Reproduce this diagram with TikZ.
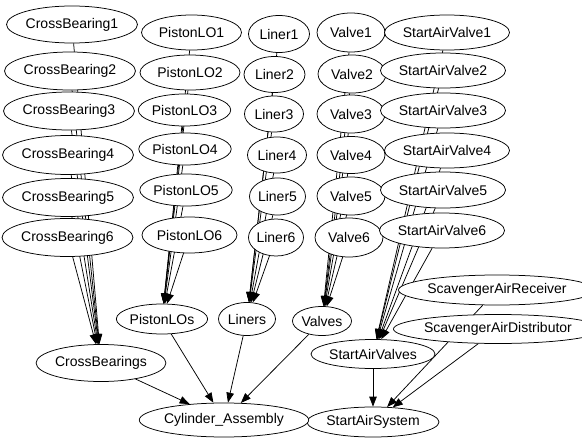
\documentclass[tikz,border=0pt]{standalone}
\usepackage{fontspec}
\setmainfont{Liberation Sans}
\usetikzlibrary{shapes.geometric,arrows.meta,backgrounds}
\tikzset{
  nd/.style={ellipse, draw=black, fill=white, inner sep=0pt, line width=0.75pt,
    font=\fontsize{14}{16}\selectfont},
  sz/.style 2 args={minimum width=#1pt, minimum height=#2pt},
  edge/.style={draw=black, line width=0.75pt, -{Triangle[length=10pt,width=7.5pt]}}
}
\begin{document}
\begin{tikzpicture}[x=1pt,y=-1pt]
\useasboundingbox (0,0) rectangle (582,439);
% CrossBearing column
\node[nd,sz={129}{37}] (cb1) at (72,24.5) {CrossBearing1};
\node[nd,sz={127}{38}] (cb2) at (70,71) {CrossBearing2};
\node[nd,sz={127}{38}] (cb3) at (69,111) {CrossBearing3};
\node[nd,sz={127}{39}] (cb4) at (68,155) {CrossBearing4};
\node[nd,sz={127}{38}] (cb5) at (68,197.5) {CrossBearing5};
\node[nd,sz={125}{38}] (cb6) at (67.5,237.5) {CrossBearing6};
% PistonLO column
\node[nd,sz={100}{35}] (p1) at (191.5,32.5) {PistonLO1};
\node[nd,sz={100}{35}] (p2) at (190,72.5) {PistonLO2};
\node[nd,sz={89}{32}] (p3) at (184.5,110) {PistonLO3};
\node[nd,sz={90}{32}] (p4) at (185,149) {PistonLO4};
\node[nd,sz={92}{32}] (p5) at (186,190) {PistonLO5};
\node[nd,sz={95}{36}] (p6) at (189.5,235) {PistonLO6};
% Liner column
\node[nd,sz={61}{37}] (l1) at (279,34) {Liner1};
\node[nd,sz={61}{36}] (l2) at (274.5,74.5) {Liner2};
\node[nd,sz={59}{36}] (l3) at (274,114) {Liner3};
\node[nd,sz={59}{36}] (l4) at (277,155) {Liner4};
\node[nd,sz={56}{37}] (l5) at (277.5,196.5) {Liner5};
\node[nd,sz={54}{37}] (l6) at (276,237.5) {Liner6};
% Valve column
\node[nd,sz={68}{39}] (v1) at (351,32.5) {Valve1};
\node[nd,sz={68}{38}] (v2) at (352,74) {Valve2};
\node[nd,sz={68}{38}] (v3) at (351,114) {Valve3};
\node[nd,sz={68}{37}] (v4) at (351,155) {Valve4};
\node[nd,sz={68}{38}] (v5) at (351,196) {Valve5};
\node[nd,sz={68}{39}] (v6) at (349,237.5) {Valve6};
% StartAirValve column
\node[nd,sz={110}{35}] (s1) at (447,32.5) {StartAirValve1};
\node[nd,sz={110}{35}] (s2) at (443,70.5) {StartAirValve2};
\node[nd,sz={110}{35}] (s3) at (443,110.5) {StartAirValve3};
\node[nd,sz={110}{35}] (s4) at (447,150.5) {StartAirValve4};
\node[nd,sz={110}{36}] (s5) at (443,190) {StartAirValve5};
\node[nd,sz={110}{35}] (s6) at (442,230.5) {StartAirValve6};
% aggregates
\node[nd,sz={118}{37}] (cbs) at (101,363) {CrossBearings};
\node[nd,sz={89}{30}] (ps) at (162,319) {PistonLOs};
\node[nd,sz={57}{33}] (ls) at (247,319) {Liners};
\node[nd,sz={59}{29}] (vs) at (322,321) {Valves};
\node[nd,sz={107}{29}] (savs) at (373,354) {StartAirValves};
\node[nd,sz={165}{30}] (sar) at (497,290) {ScavengerAirReceiver};
\node[nd,sz={167}{29}] (sad) at (498,329) {ScavengerAirDistributor};
\node[nd,sz={117}{30}] (sas) at (373,422) {StartAirSystem};
\node[nd,sz={148}{34}] (ca) at (224,420) {Cylinder\_Assembly};
% edges
\begin{pgfonlayer}{background}
\foreach \i in {1,...,6} {
  \draw[edge] (cb\i) -- (cbs);
  \draw[edge] (p\i) -- (ps);
  \draw[edge] (l\i) -- (ls);
  \draw[edge] (v\i) -- (vs);
  \draw[edge] (s\i) -- (savs);
}
\draw[edge] (cbs) -- (ca);
\draw[edge] (ps) -- (ca);
\draw[edge] (ls) -- (ca);
\draw[edge] (vs) -- (ca);
\draw[edge] (savs) -- (sas);
\draw[edge] (sar) -- (sas);
\draw[edge] (sad) -- (sas);
\end{pgfonlayer}
\end{tikzpicture}
\end{document}
